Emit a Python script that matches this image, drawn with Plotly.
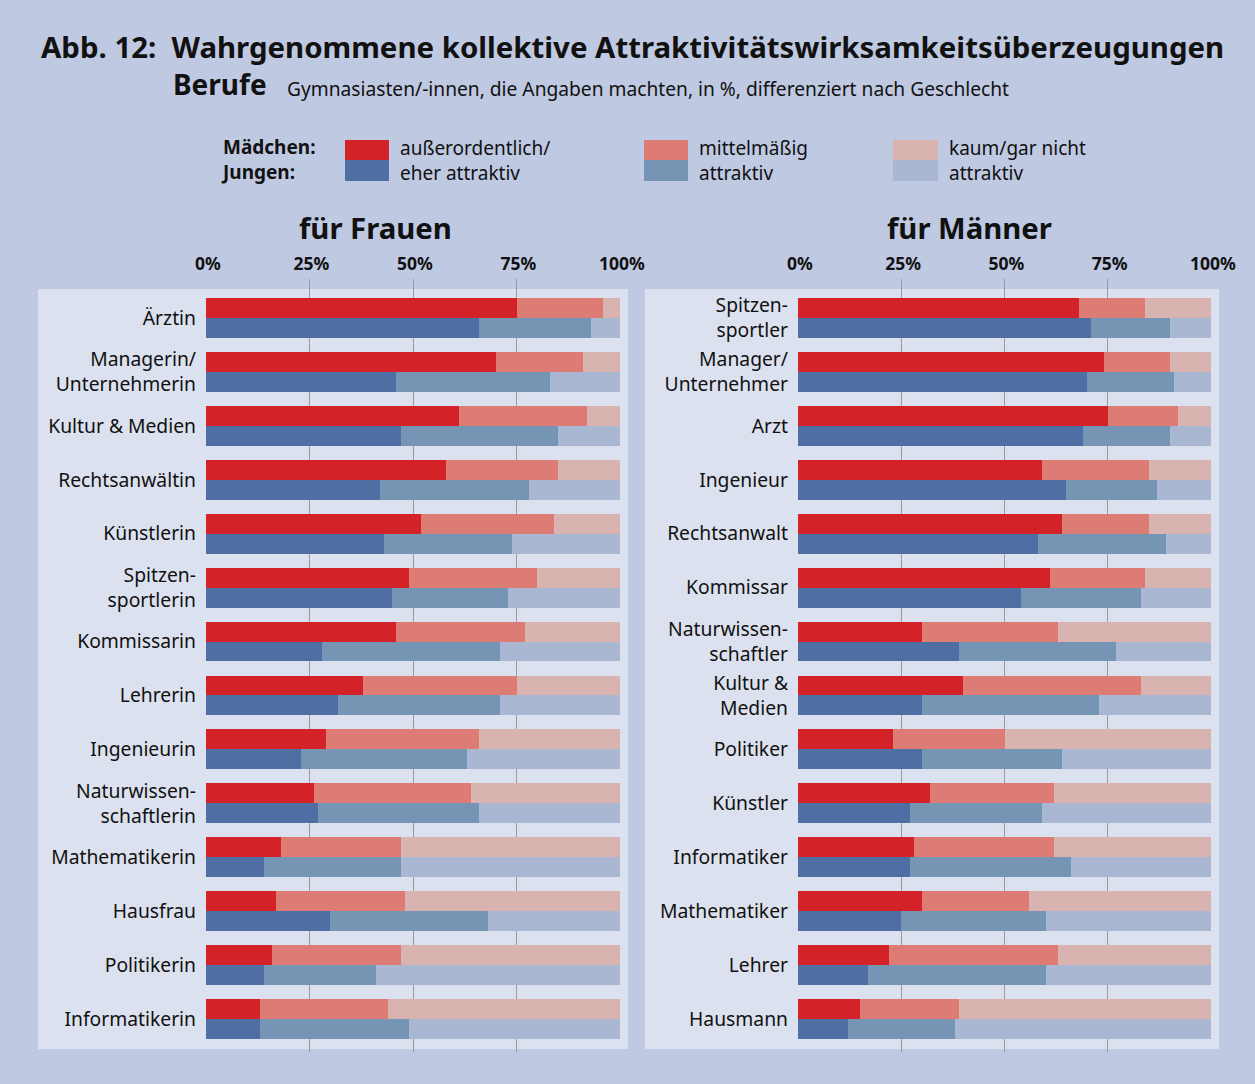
import plotly.graph_objects as go

# ---------------- data ----------------
cats_frauen = ["Ärztin", "Managerin/<br>Unternehmerin", "Kultur & Medien", "Rechtsanwältin",
               "Künstlerin", "Spitzen-<br>sportlerin", "Kommissarin", "Lehrerin", "Ingenieurin",
               "Naturwissen-<br>schaftlerin", "Mathematikerin", "Hausfrau", "Politikerin",
               "Informatikerin"]
frauen_maedchen_hoch = [75, 70, 61, 58, 52, 49, 46, 38, 29, 26, 18, 17, 16, 13]
frauen_maedchen_mittel = [21, 21, 31, 27, 32, 31, 31, 37, 37, 38, 29, 31, 31, 31]
frauen_maedchen_kaum = [4, 9, 8, 15, 16, 20, 23, 25, 34, 36, 53, 52, 53, 56]
frauen_jungen_hoch = [66, 46, 47, 42, 43, 45, 28, 32, 23, 27, 14, 30, 14, 13]
frauen_jungen_mittel = [27, 37, 38, 36, 31, 28, 43, 39, 40, 39, 33, 38, 27, 36]
frauen_jungen_kaum = [7, 17, 15, 22, 26, 27, 29, 29, 37, 34, 53, 32, 59, 51]

cats_maenner = ["Spitzen-<br>sportler", "Manager/<br>Unternehmer", "Arzt", "Ingenieur",
                "Rechtsanwalt", "Kommissar", "Naturwissen-<br>schaftler", "Kultur &<br>Medien",
                "Politiker", "Künstler", "Informatiker", "Mathematiker", "Lehrer", "Hausmann"]
maenner_maedchen_hoch = [68, 74, 75, 59, 64, 61, 30, 40, 23, 32, 28, 30, 22, 15]
maenner_maedchen_mittel = [16, 16, 17, 26, 21, 23, 33, 43, 27, 30, 34, 26, 41, 24]
maenner_maedchen_kaum = [16, 10, 8, 15, 15, 16, 37, 17, 50, 38, 38, 44, 37, 61]
maenner_jungen_hoch = [71, 70, 69, 65, 58, 54, 39, 30, 30, 27, 27, 25, 17, 12]
maenner_jungen_mittel = [19, 21, 21, 22, 31, 29, 38, 43, 34, 32, 39, 35, 43, 26]
maenner_jungen_kaum = [10, 9, 10, 13, 11, 17, 23, 27, 36, 41, 34, 40, 40, 62]

tick_vals = [0, 25, 50, 75, 100]
tick_text = ["0%", "25%", "50%", "75%", "100%"]

legend_labels = ["außerordentlich/<br>eher attraktiv", "mittelmäßig<br>attraktiv",
                 "kaum/gar nicht<br>attraktiv"]

# ---------------- style ----------------
W, H = 1255, 1084
BG = "#bfc9e2"
PANEL = "#dce1ef"
RED = ["#d42229", "#dc7c74", "#d8b3af"]
BLUE = ["#4f6ea4", "#7695b4", "#aab7d2"]
GRID = "#9a9a9a"
TXT = "#111111"
FONT = "Noto Sans"


def px(x):
    return x / W


def py(y):
    return 1 - y / H


rows = list(range(len(cats_frauen)))
OFF = 0.185
BW = 0.37

fig = go.Figure()


def add_panel(xa, ya, m_vals, j_vals):
    for vals, col in zip(m_vals, RED):
        fig.add_trace(go.Bar(x=vals, y=[r - OFF for r in rows], orientation="h", width=BW,
                             marker=dict(color=col, line=dict(width=0)),
                             xaxis=xa, yaxis=ya, showlegend=False, hoverinfo="skip"))
    for vals, col in zip(j_vals, BLUE):
        fig.add_trace(go.Bar(x=vals, y=[r + OFF for r in rows], orientation="h", width=BW,
                             marker=dict(color=col, line=dict(width=0)),
                             xaxis=xa, yaxis=ya, showlegend=False, hoverinfo="skip"))


add_panel("x", "y",
          [frauen_maedchen_hoch, frauen_maedchen_mittel, frauen_maedchen_kaum],
          [frauen_jungen_hoch, frauen_jungen_mittel, frauen_jungen_kaum])
add_panel("x2", "y2",
          [maenner_maedchen_hoch, maenner_maedchen_mittel, maenner_maedchen_kaum],
          [maenner_jungen_hoch, maenner_jungen_mittel, maenner_jungen_kaum])

# dummy traces so the grid-only overlay axes exist
fig.add_trace(go.Scatter(x=[None], y=[None], xaxis="x3", yaxis="y", showlegend=False, hoverinfo="skip"))
fig.add_trace(go.Scatter(x=[None], y=[None], xaxis="x4", yaxis="y2", showlegend=False, hoverinfo="skip"))

ydom = [py(1052), py(279)]
yrange = [13.612, -0.723]

xcommon = dict(range=[0, 100], side="top", tickmode="array", tickvals=tick_vals, ticktext=tick_text,
               showgrid=False, zeroline=False, showline=False, ticks="", automargin=False,
               tickfont=dict(family=FONT, size=17.5, color=TXT, weight="bold"),
               ticklabelstandoff=5, ticklabelshift=2, fixedrange=True)
gridcommon = dict(range=[0, 100], side="top", tickmode="array", showgrid=True, gridcolor=GRID,
                  gridwidth=1.3, zeroline=False, showline=False, ticks="", showticklabels=False,
                  automargin=False, fixedrange=True)
ycommon = dict(range=yrange, domain=ydom, tickmode="array", tickvals=rows, showgrid=False,
               zeroline=False, showline=False, ticks="", ticklabelstandoff=9, automargin=False,
               tickfont=dict(family=FONT, size=19.3, color=TXT), fixedrange=True)

fig.update_layout(
    width=W, height=H, autosize=False,
    margin=dict(l=0, r=0, t=0, b=0, pad=0, autoexpand=False),
    paper_bgcolor=BG, plot_bgcolor="rgba(0,0,0,0)",
    barmode="stack", bargap=0,
    font=dict(family=FONT, color=TXT),
    xaxis=dict(domain=[px(206), px(620)], anchor="y", **xcommon),
    xaxis2=dict(domain=[px(798), px(1211)], anchor="y2", **xcommon),
    xaxis3=dict(overlaying="x", anchor="y", tickvals=[25, 50, 75], **gridcommon),
    xaxis4=dict(overlaying="x2", anchor="y2", tickvals=[0, 25, 50, 75], **gridcommon),
    yaxis=dict(anchor="x", ticktext=cats_frauen, **ycommon),
    yaxis2=dict(anchor="x2", ticktext=cats_maenner, **ycommon),
)

shapes = [
    dict(type="rect", xref="paper", yref="paper", x0=px(38), x1=px(628), y0=py(1049), y1=py(289),
         fillcolor=PANEL, line=dict(width=0), layer="below"),
    dict(type="rect", xref="paper", yref="paper", x0=px(645), x1=px(1219), y0=py(1049), y1=py(289),
         fillcolor=PANEL, line=dict(width=0), layer="below"),
]
# legend swatches
swatch_x = [(345, 389), (644, 688), (893, 938)]
for i, (xl, xr) in enumerate(swatch_x):
    shapes.append(dict(type="rect", xref="paper", yref="paper", x0=px(xl), x1=px(xr),
                       y0=py(160), y1=py(140), fillcolor=RED[i], line=dict(width=0)))
    shapes.append(dict(type="rect", xref="paper", yref="paper", x0=px(xl), x1=px(xr),
                       y0=py(181), y1=py(160), fillcolor=BLUE[i], line=dict(width=0)))
fig.update_layout(shapes=shapes)

ann = []


def text(x, y, s, size, bold=False, xanchor="left"):
    ann.append(dict(x=px(x), y=py(y), xref="paper", yref="paper", text=s, showarrow=False,
                    xanchor=xanchor, yanchor="middle", align="left",
                    font=dict(family=FONT, size=size, color=TXT, weight="bold" if bold else "normal")))


text(39, 47, "Abb. 12:  Wahrgenommene kollektive Attraktivitätswirksamkeitsüberzeugungen", 29.4, True)
text(171, 84, "Berufe", 28, True)
text(285, 89, "Gymnasiasten/-innen, die Angaben machten, in %, differenziert nach Geschlecht", 19.2)
text(219, 159, "Mädchen:<br>Jungen:", 19, True)
for (xl, xr), lab in zip(swatch_x, legend_labels):
    text(xr + 9, 161, lab, 19)
text(375, 228, "für Frauen", 29.3, True, "center")
text(969, 228, "für Männer", 29.3, True, "center")
fig.update_layout(annotations=ann)

fig.write_html("out.html", config={"responsive": False, "displayModeBar": False},
               post_script="document.body.style.margin='0';document.body.style.overflow='hidden';")
